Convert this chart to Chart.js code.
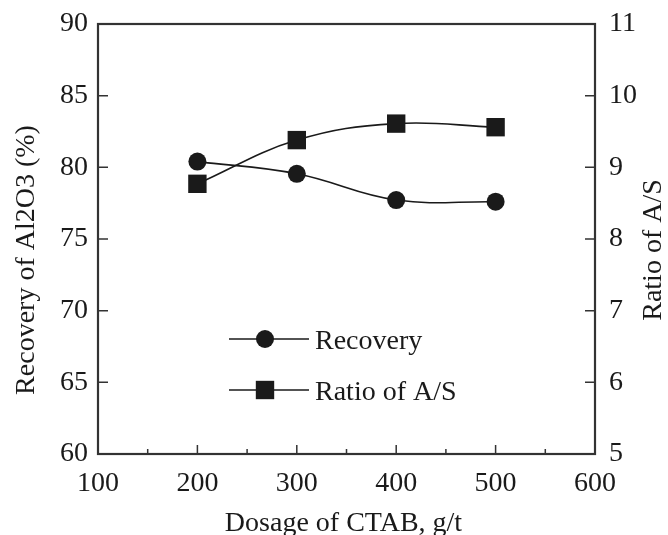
<!DOCTYPE html>
<html>
<head>
<meta charset="utf-8">
<title>Recovery and A/S ratio vs CTAB dosage</title>
<script src="https://cdn.jsdelivr.net/npm/chart.js@4.4.0/dist/chart.umd.min.js"></script>
<style>
  html, body { margin: 0; padding: 0; background: #fff; }
  #wrap { width: 668px; height: 535px; }
</style>
</head>
<body>
<div id="wrap"><canvas id="myChart" width="668" height="535"></canvas></div>
<script>
// data
const dosage = [200, 300, 400, 500];           // g/t
const recovery = [80.4, 79.55, 77.72, 77.6];   // % Al2O3
const ratioAS = [8.77, 9.38, 9.61, 9.56];      // A/S
const seriesNames = ["Recovery", "Ratio of A/S"];
const xTitle = "Dosage of CTAB, g/t";
const yTitle = "Recovery of Al2O3 (%)";
const y1Title = "Ratio of A/S";

const FONT = "'Liberation Serif', 'Times New Roman', serif";
const FSIZE = 28;
const INK = "#1a1a1a";

// inward tick marks + box frame, like the original plot
const frameTicks = {
  id: "frameTicks",
  afterDatasetsDraw(chart) {
    const { ctx, chartArea: a, scales } = chart;
    ctx.save();
    ctx.strokeStyle = "#333";
    ctx.lineWidth = 1.5;
    ctx.beginPath();
    scales.x.ticks.forEach((t) => {
      if (t.value <= scales.x.min || t.value >= scales.x.max) return;
      const x = scales.x.getPixelForValue(t.value);
      const len = t.value % 100 === 0 ? 9 : 5;
      ctx.moveTo(x, a.bottom);
      ctx.lineTo(x, a.bottom - len);
    });
    scales.y.ticks.forEach((t) => {
      if (t.value <= scales.y.min || t.value >= scales.y.max) return;
      const y = scales.y.getPixelForValue(t.value);
      ctx.moveTo(a.left, y);
      ctx.lineTo(a.left + 10, y);
    });
    scales.y1.ticks.forEach((t) => {
      if (t.value <= scales.y1.min || t.value >= scales.y1.max) return;
      const y = scales.y1.getPixelForValue(t.value);
      ctx.moveTo(a.right, y);
      ctx.lineTo(a.right - 10, y);
    });
    ctx.stroke();
    ctx.lineWidth = 2.2;
    ctx.strokeRect(a.left, a.top, a.right - a.left, a.bottom - a.top);
    ctx.restore();
  },
};

// axis titles; both vertical ones read bottom-to-top as in the figure
const axisTitles = {
  id: "axisTitles",
  afterDraw(chart) {
    const { ctx, chartArea: a } = chart;
    ctx.save();
    ctx.fillStyle = INK;
    ctx.font = FSIZE + "px " + FONT;
    ctx.textAlign = "center";
    ctx.textBaseline = "alphabetic";
    ctx.fillText(xTitle, (a.left + a.right) / 2 - 3, 531);

    ctx.textBaseline = "middle";
    ctx.translate(27, 260);
    ctx.rotate(-Math.PI / 2);
    ctx.fillText(yTitle, 0, 0);
    ctx.restore();

    ctx.save();
    ctx.fillStyle = INK;
    ctx.font = FSIZE + "px " + FONT;
    ctx.textAlign = "center";
    ctx.textBaseline = "middle";
    ctx.translate(654, 250);
    ctx.rotate(-Math.PI / 2);
    ctx.fillText(y1Title, 0, 0);
    ctx.restore();
  },
};

// legend inside the plot: short line with the marker on it
const innerLegend = {
  id: "innerLegend",
  afterDatasetsDraw(chart) {
    const { ctx, chartArea: a } = chart;
    const x0 = a.left + 131;
    const x1 = a.left + 211;
    const ys = [a.top + 315, a.top + 366];
    ctx.save();
    chart.data.datasets.forEach((ds, i) => {
      const y = ys[i];
      ctx.strokeStyle = INK;
      ctx.lineWidth = 1.5;
      ctx.beginPath();
      ctx.moveTo(x0, y);
      ctx.lineTo(x1, y);
      ctx.stroke();
      ctx.fillStyle = INK;
      Chart.helpers.drawPoint(ctx, {
        pointStyle: ds.pointStyle,
        radius: ds.pointRadius,
        borderWidth: 0,
      }, (x0 + x1) / 2 - 4, y);
      ctx.font = FSIZE + "px " + FONT;
      ctx.textBaseline = "middle";
      ctx.textAlign = "left";
      ctx.fillText(ds.label, x1 + 6, y + 3);
    });
    ctx.restore();
  },
};

const tickFont = { family: FONT, size: FSIZE };

const ctx = document.getElementById("myChart").getContext("2d");
const myChart = new Chart(ctx, {
  type: "line",
  data: {
    datasets: [
      {
        label: seriesNames[0],
        data: dosage.map((d, i) => ({ x: d, y: recovery[i] })),
        yAxisID: "y",
        borderColor: INK,
        backgroundColor: INK,
        borderWidth: 1.6,
        pointStyle: "circle",
        pointRadius: 9,
        pointBorderWidth: 0,
        tension: 0.4,
      },
      {
        label: seriesNames[1],
        data: dosage.map((d, i) => ({ x: d, y: ratioAS[i] })),
        yAxisID: "y1",
        borderColor: INK,
        backgroundColor: INK,
        borderWidth: 1.6,
        pointStyle: "rect",
        pointRadius: 13,
        pointBorderWidth: 0,
        tension: 0.4,
      },
    ],
  },
  options: {
    responsive: false,
    animation: false,
    layout: { padding: { top: 24, left: 0, right: 0, bottom: 0 } },
    plugins: {
      legend: { display: false },
      tooltip: { enabled: false },
    },
    scales: {
      x: {
        type: "linear",
        min: 100,
        max: 600,
        border: { display: false },
        grid: { display: false, drawTicks: false },
        ticks: {
          stepSize: 50,
          autoSkip: false,
          maxRotation: 0,
          padding: 13,
          color: INK,
          font: tickFont,
          callback: (v) => (v % 100 === 0 ? v : ""),
        },
        afterFit: (s) => {
          s.height = 81;
          s.paddingLeft = 0;
          s.paddingRight = 0;
        },
      },
      y: {
        position: "left",
        min: 60,
        max: 90,
        border: { display: false },
        grid: { display: false, drawTicks: false },
        ticks: { stepSize: 5, padding: 10, color: INK, font: tickFont },
        afterFit: (s) => {
          s.width = 98;
          s.paddingTop = 0;
          s.paddingBottom = 0;
        },
      },
      y1: {
        position: "right",
        min: 5,
        max: 11,
        border: { display: false },
        grid: { display: false, drawTicks: false },
        ticks: { stepSize: 1, padding: 14, color: INK, font: tickFont },
        afterFit: (s) => {
          s.width = 73;
          s.paddingTop = 0;
          s.paddingBottom = 0;
        },
      },
    },
  },
  plugins: [frameTicks, innerLegend, axisTitles],
});
</script>
</body>
</html>
